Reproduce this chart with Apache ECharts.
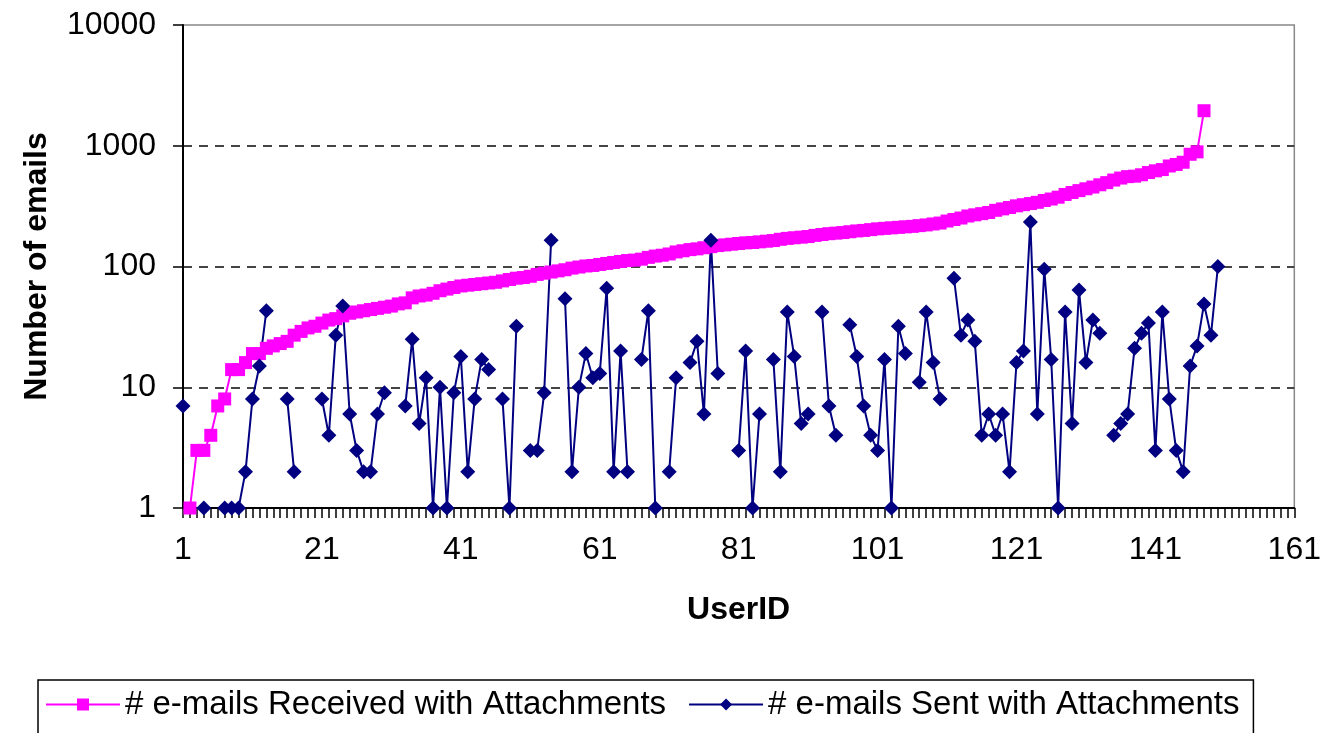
<!DOCTYPE html>
<html>
<head>
<meta charset="utf-8">
<title>e-mails with attachments</title>
<script src="https://cdn.jsdelivr.net/npm/echarts@6.0.0/dist/echarts.min.js"></script>
<style>
    html, body { margin: 0; padding: 0; background: #fff; }
    #chart { width: 1324px; height: 733px; }
</style>
</head>
<body>
<div id="chart"></div>
<script>
// user ids on the x axis (1 .. 161)
let userIds = Array.from({ length: 161 }, (_, k) => String(k + 1));

// # e-mails received with attachments, sorted (null = 0, not drawn on log axis)
let received = [
    null, 1, 3, 3, 4, 7, 8, 14, 14, 16,
    19, 19, 21, 22, 23, 24, 27, 29, 31, 32,
    34, 36, 37, 39, 41, 42, 43, 44, 45, 46,
    47, 49, 50, 55, 57, 58, 60, 63, 65, 67,
    69, 70, 71, 72, 73, 74, 76, 78, 80, 81,
    83, 86, 88, 90, 92, 94, 97, 99, 101, 102,
    104, 106, 108, 110, 112, 113, 115, 119, 122, 124,
    127, 132, 135, 138, 140, 143, 146, 149, 151, 153,
    155, 157, 158, 160, 162, 164, 168, 171, 173, 175,
    177, 181, 184, 187, 189, 191, 194, 197, 199, 202,
    205, 207, 209, 211, 213, 215, 218, 221, 225, 229,
    238, 245, 252, 262, 268, 274, 280, 292, 300, 308,
    318, 325, 332, 340, 352, 362, 375, 395, 410, 425,
    440, 455, 475, 495, 520, 540, 555, 560, 575, 600,
    620, 635, 680, 700, 730, 850, 890, 1950
];

// # e-mails sent with attachments (null = 0)
let sent = [
    7, null, null, 1, null, null, 1, 1, 1, 2,
    8, 15, 43, null, null, 8, 2, null, null, null,
    8, 4, 27, 47, 6, 3, 2, 2, 6, 9,
    null, null, 7, 25, 5, 12, 1, 10, 1, 9,
    18, 2, 8, 17, 14, null, 8, 1, 32, null,
    3, 3, 9, 165, null, 54, 2, 10, 19, 12,
    13, 66, 2, 20, 2, null, 17, 43, 1, null,
    2, 12, null, 16, 24, 6, 165, 13, null, null,
    3, 20, 1, 6, null, 17, 2, 42, 18, 5,
    6, null, 42, 7, 4, null, 33, 18, 7, 4,
    3, 17, 1, 32, 19, null, 11, 42, 16, 8,
    null, 80, 27, 36, 24, 4, 6, 4, 6, 2,
    16, 20, 234, 6, 95, 17, 1, 42, 5, 64,
    16, 36, 28, null, 4, 5, 6, 21, 28, 34,
    3, 42, 8, 3, 2, 15, 22, 49, 27, 100
];

let font = "Liberation Sans, Arial, sans-serif";

let chart = echarts.init(document.getElementById("chart"));
chart.setOption({
    animation: false,
    backgroundColor: "#fff",
    textStyle: { fontFamily: font },
    grid: {
        left: 183,
        right: 21,
        top: 25,
        bottom: 225,
        show: true,
        borderColor: "#888",
        borderWidth: 1.5
    },
    legend: {
        left: 38,
        top: 680,
        padding: [8, 14, 30, 7],
        itemGap: 22,
        itemWidth: 74,
        itemHeight: 15,
        borderColor: "#000",
        borderWidth: 1.5,
        textStyle: { fontSize: 33, color: "#000", fontFamily: font },
        data: ["# e-mails Received with Attachments", "# e-mails Sent with Attachments"]
    },
    xAxis: {
        type: "category",
        data: userIds,
        boundaryGap: false,
        name: "UserID",
        nameLocation: "middle",
        nameGap: 86,
        nameTextStyle: { fontSize: 32, fontWeight: "bold", color: "#000", fontFamily: font },
        axisLine: { lineStyle: { color: "#000", width: 2 } },
        axisTick: { interval: 0, length: 10, lineStyle: { color: "#000", width: 1.5 } },
        axisLabel: {
            interval: 19,
            showMinLabel: true,
            showMaxLabel: true,
            margin: 26,
            fontSize: 32,
            color: "#000",
            fontFamily: font
        },
        splitLine: { show: false }
    },
    yAxis: {
        type: "log",
        logBase: 10,
        min: 1,
        max: 10000,
        name: "Number of emails",
        nameLocation: "middle",
        nameGap: 130,
        nameTextStyle: { fontSize: 32, fontWeight: "bold", color: "#000", fontFamily: font },
        axisLine: { show: true, lineStyle: { color: "#000", width: 2 } },
        axisTick: { show: true, length: 10, lineStyle: { color: "#000", width: 1.5 } },
        axisLabel: {
            margin: 27,
            fontSize: 32,
            color: "#000",
            fontFamily: font,
            formatter: function (v) { return String(Math.round(v)); }
        },
        splitLine: {
            show: true,
            showMinLine: false,
            showMaxLine: false,
            lineStyle: { color: "#444", width: 2, type: [9, 7] }
        }
    },
    series: [
        {
            name: "# e-mails Received with Attachments",
            type: "line",
            data: received,
            symbol: "rect",
            symbolSize: 13,
            showAllSymbol: true,
            color: "#ff00ff",
            lineStyle: { width: 2, color: "#ff00ff" },
            itemStyle: { color: "#ff00ff" }
        },
        {
            name: "# e-mails Sent with Attachments",
            type: "line",
            data: sent,
            symbol: "diamond",
            symbolSize: 15,
            showAllSymbol: true,
            color: "#000080",
            lineStyle: { width: 2, color: "#000080" },
            itemStyle: { color: "#000080" }
        }
    ]
});
</script>
</body>
</html>
